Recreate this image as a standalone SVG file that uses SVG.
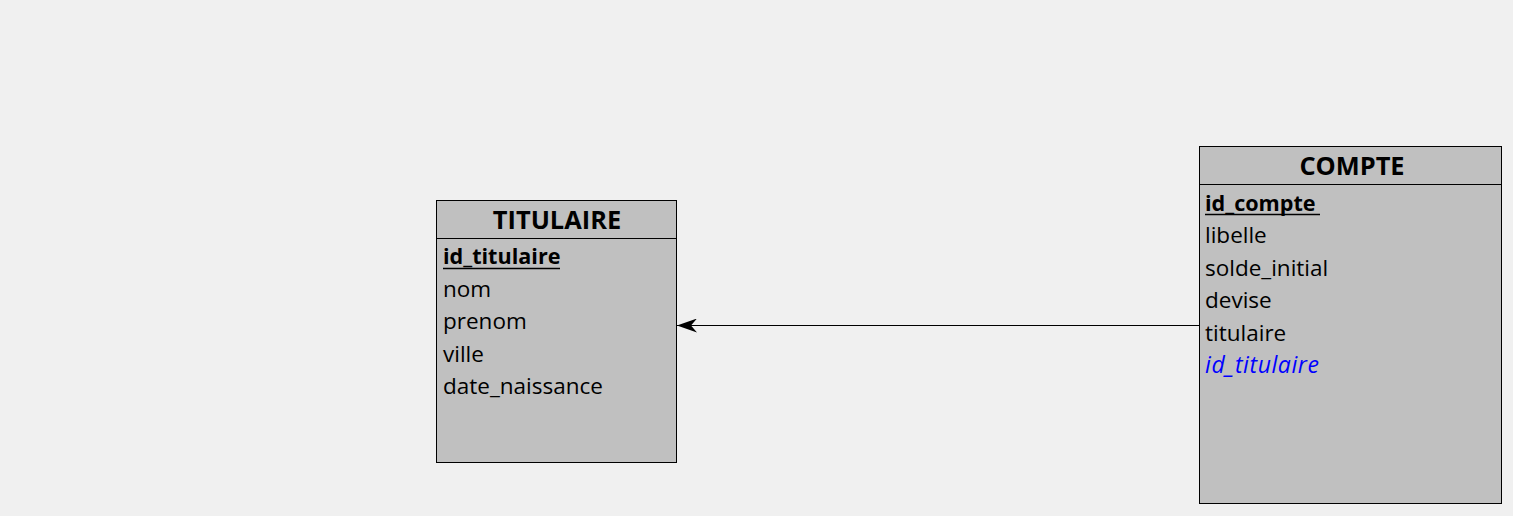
<svg xmlns="http://www.w3.org/2000/svg" width="1513" height="516" viewBox="0 0 1513 516">
<style>
.box{fill:#c0c0c0;stroke:#000;stroke-width:1}
.t{font-family:"Open Sans","Noto Sans","Liberation Sans",sans-serif;font-size:25.4px;font-weight:bold;fill:#000;text-anchor:middle}
.f{font-family:"Open Sans","Noto Sans","Liberation Sans",sans-serif;font-size:22.5px;fill:#000}
.pk{font-weight:bold;font-size:21.6px}
.fk{fill:#0000ff;font-style:italic;font-size:23px}
.u{stroke:#000;stroke-width:1.5}
.c{stroke:#000;stroke-width:1;fill:none}
</style>
<defs>
<marker id="ah" viewBox="0 0 20 14" refX="20" refY="7" markerWidth="20" markerHeight="14" markerUnits="userSpaceOnUse" orient="auto">
<path d="M20,7 L0,0 L6,7 L0,14 Z" fill="#000"/>
</marker>
</defs>
<rect width="1513" height="516" fill="#f0f0f0"/>
<g id="connectors">
<line class="c" x1="1200" y1="325.5" x2="677" y2="325.5" marker-end="url(#ah)"/>
</g>
<g id="titulaire">
<rect class="box" x="436.5" y="200.5" width="240" height="262"/>
<line class="c" x1="436.5" y1="238.5" x2="676.5" y2="238.5"/>
<text class="t" x="557" y="229">TITULAIRE</text>
<text class="f pk" x="443" y="264">id_titulaire</text>
<line class="u" x1="443" y1="268.5" x2="560" y2="268.5"/>
<text class="f" x="443" y="297">nom</text>
<text class="f" x="443" y="329">prenom</text>
<text class="f" x="443" y="362">ville</text>
<text class="f" x="443" y="394">date_naissance</text>
</g>
<g id="compte">
<rect class="box" x="1199.5" y="146.5" width="302" height="357"/>
<line class="c" x1="1199.5" y1="184.5" x2="1501.5" y2="184.5"/>
<text class="t" x="1352" y="175">COMPTE</text>
<text class="f pk" x="1205" y="211">id_compte</text>
<line class="u" x1="1205" y1="214.5" x2="1320" y2="214.5"/>
<text class="f" x="1205" y="243">libelle</text>
<text class="f" x="1205" y="276">solde_initial</text>
<text class="f" x="1205" y="308">devise</text>
<text class="f" x="1205" y="341">titulaire</text>
<text class="f fk" x="1205" y="373" textLength="114" lengthAdjust="spacing">id_titulaire</text>
</g>
</svg>
